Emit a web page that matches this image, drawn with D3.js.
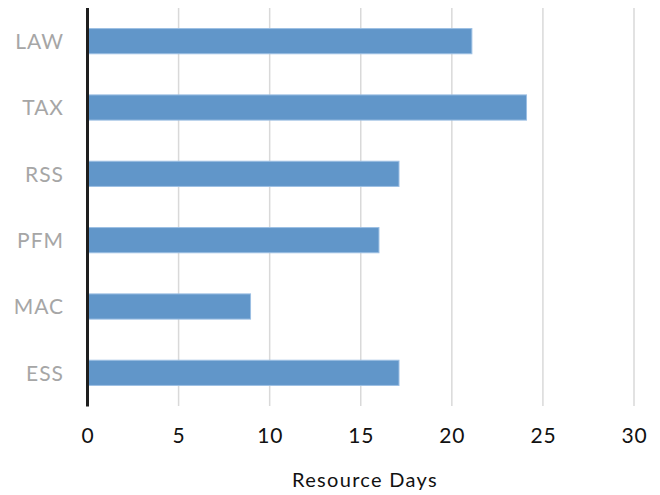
<!DOCTYPE html>
<html><head><meta charset="utf-8">
<script src="https://cdn.jsdelivr.net/npm/d3@7"></script>
<style>body{margin:0;background:#fff}svg{display:block}</style>
</head><body>
<svg id="c" width="660" height="495"></svg>
<script>
const categories = ["LAW","TAX","RSS","PFM","MAC","ESS"];
const values = [21.1, 24.1, 17.1, 16.0, 8.95, 17.1];
const xTicks = [0,5,10,15,20,25,30];
const xTitle = "Resource Days";

const svg = d3.select("#c");
const font = "Lato, 'Open Sans', sans-serif";
const x = d3.scaleLinear().domain([0,30]).range([87.5, 634]);
const y = d3.scaleBand().domain(categories).range([8, 406]).paddingInner(0.62).paddingOuter(0.31);

// gridlines
svg.append("g").selectAll("line").data(xTicks.filter(d=>d>0)).join("line")
  .attr("x1", d=>x(d)).attr("x2", d=>x(d)).attr("y1", 8).attr("y2", 406)
  .attr("stroke", "#d9d9d9").attr("stroke-width", 1.5);

// bars
svg.append("g").selectAll("rect").data(values).join("rect")
  .attr("x", x(0)).attr("y", (d,i)=>y(categories[i]))
  .attr("width", d=>x(d)-x(0)).attr("height", y.bandwidth())
  .attr("fill", "#6196c9").attr("stroke", "#9cbfe3").attr("stroke-width", 1);

// axis line
svg.append("line").attr("x1", x(0)).attr("x2", x(0)).attr("y1", 8).attr("y2", 406.5)
  .attr("stroke", "#1e1e1e").attr("stroke-width", 3);

// category labels
const yAxis = d3.axisLeft(y).tickSize(0).tickPadding(0);
const ya = svg.append("g").attr("transform", "translate(64,1)").call(yAxis);
ya.select(".domain").remove();
ya.selectAll("text").attr("font-family", font).attr("font-size", 21)
  .attr("letter-spacing", 1).attr("fill", "#a6a6a6");

// x tick labels
const xAxis = d3.axisBottom(x).tickValues(xTicks).tickSize(0).tickPadding(0);
const xa = svg.append("g").attr("transform", "translate(0,428)").call(xAxis);
xa.select(".domain").remove();
xa.selectAll("text").attr("font-family", font).attr("font-size", 21)
  .attr("letter-spacing", 0.8).attr("fill", "#111");

svg.append("text").attr("x", 365).attr("y", 487).attr("text-anchor", "middle")
  .attr("font-family", font).attr("font-size", 20).attr("letter-spacing", 1.3)
  .attr("fill", "#111").text(xTitle);
</script>
</body></html>
